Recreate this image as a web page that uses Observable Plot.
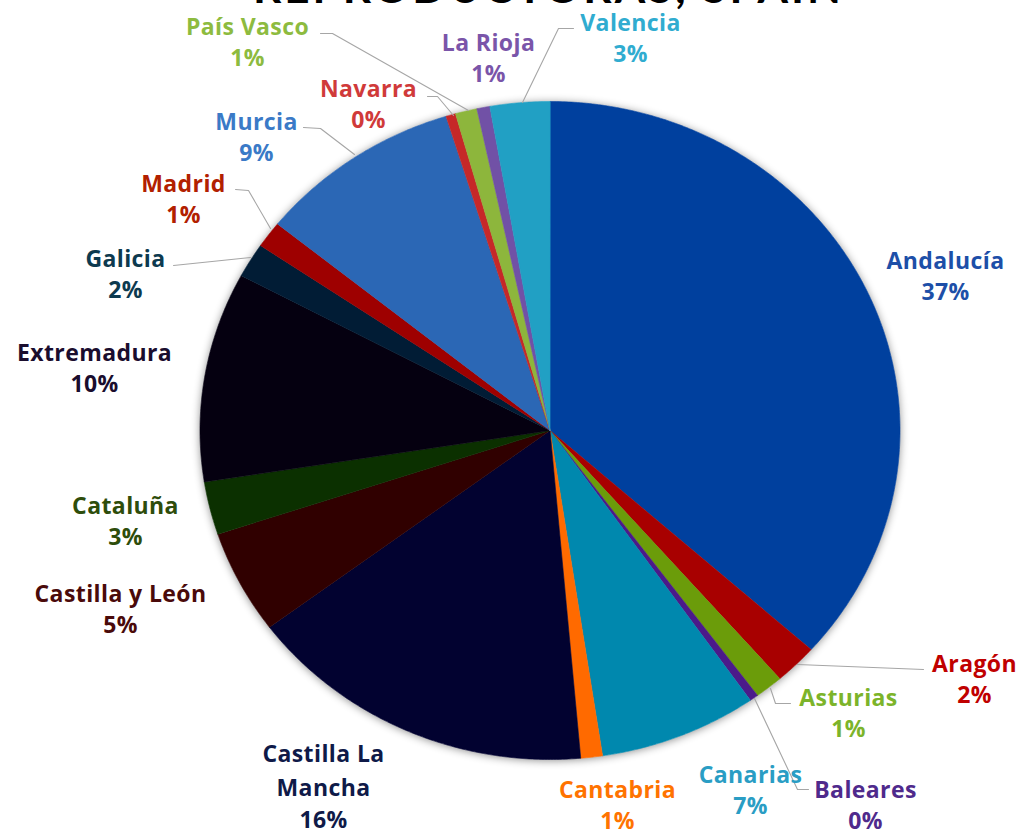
<!DOCTYPE html>
<html><head><meta charset="utf-8">
<script src="https://cdn.jsdelivr.net/npm/d3@7"></script>
<script src="https://cdn.jsdelivr.net/npm/@observablehq/plot@0.6"></script>
<style>
html,body{margin:0;padding:0;background:#fff;overflow:hidden;width:1024px;height:834px}
#wrap{position:relative;width:1024px;height:834px;overflow:hidden}
#title{position:absolute;left:0;top:-40px;width:1097px;text-align:center;font:bold 44px Lato, sans-serif;color:#000;letter-spacing:3px;white-space:nowrap}
#chart{position:absolute;left:0;top:0}
#chart text{letter-spacing:0.4px}
</style></head><body>
<div id="wrap">
<div id="title">REPRODUCTORAS, SPAIN</div>
<div id="chart"></div>
</div>
<script>
// ---- data ----
const regions = ["Andalucía","Aragón","Asturias","Baleares","Canarias","Cantabria","Castilla La Mancha","Castilla y León","Cataluña","Extremadura","Galicia","Madrid","Murcia","Navarra","País Vasco","La Rioja","Valencia"];
const shares = [36.6, 2.0, 1.3, 0.4, 7.3, 1.0, 16.2, 5.1, 2.6, 10.3, 1.7, 1.3, 9.4, 0.45, 1.0, 0.6, 2.75];
const sliceColors = ["#00409e","#a80000","#6b9c0a","#4b1a8a","#0088ae","#ff6a00","#020230","#300000","#0b3000","#050010","#011c35","#9e0000","#2b67b5","#c62828","#8db63c","#7151a6","#21a0c4"];
const labelColors = ["#1d4fa8","#c00000","#7cb42a","#4f2a8c","#2a9dc4","#ff7300","#0f1a48","#4a0a0a","#2e4d0b","#1a0d2e","#0d3a4f","#b22000","#3a7ac7","#d03a3a","#8dbb3f","#7a55a9","#30acd0"];
const labelText = ["Andalucía","Aragón","Asturias","Baleares","Canarias","Cantabria","Castilla La\nMancha","Castilla y León","Cataluña","Extremadura","Galicia","Madrid","Murcia","Navarra","País Vasco","La Rioja","Valencia"];

// ---- layout (pixel positions of label name line centres, leader paths) ----
const labelAt = [[945,258],[974,661],[848,695],[865,787],[750,772],[617,787],[323,751],[120,591],[125,503],[94,350],[125,256],[183,181],[256,119],[368,86],[247,24],[488,40],[630,20]];
const leaders = [
  [[797,664],[923,669]],
  [[770,688],[775,703],[790,703]],
  [[754,698],[797,789],[808,789]],
  [[173,265],[250,257]],
  [[235,189],[248,190],[270,228]],
  [[303,127],[320,128],[354,154]],
  [[427,96],[437,96],[453,115]],
  [[320,33],[332,33],[468,110]],
  [[573,28],[558,28],[522,102]]
];

const CX = 549.5, CY = 430, RX = 350, RY = 329;
const toU = px => (px - CX) / RX;
const toV = py => (CY - py) / RY;

const total = d3.sum(shares);
const arcs = d3.pie().sort(null).value(d => d)(shares);
function slicePoints(a) {
  const n = Math.max(2, Math.ceil((a.endAngle - a.startAngle) / (Math.PI / 360)));
  const pts = [{u: 0, v: 0}];
  for (let k = 0; k <= n; k++) {
    const t = a.startAngle + (a.endAngle - a.startAngle) * k / n;
    pts.push({u: Math.sin(t), v: Math.cos(t)});
  }
  return pts;
}
const ring = d3.range(0, 361, 1).map(d => ({u: Math.sin(d * Math.PI / 180), v: Math.cos(d * Math.PI / 180)}));

const lineH = 34.5;
const names = regions.map((r, i) => ({u: toU(labelAt[i][0]), v: toV(labelAt[i][1]), text: labelText[i], color: labelColors[i]}));
const pcts = regions.map((r, i) => {
  const nl = labelText[i].split("\n").length;
  return {u: toU(labelAt[i][0]), v: toV(labelAt[i][1] + nl * lineH), text: Math.round(shares[i] / total * 100) + "%", color: labelColors[i]};
});
const leaderPts = leaders.flatMap((l, j) => l.map(([x, y]) => ({j, u: toU(x), v: toV(y)})));

const font = "'Open Sans', sans-serif";
const chart = Plot.plot({
  width: 1024, height: 834,
  margin: 0,
  x: {domain: [-1, 1], range: [CX - RX, CX + RX], axis: null},
  y: {domain: [-1, 1], range: [CY + RY, CY - RY], axis: null},
  color: {type: "identity"},
  style: {background: "transparent", overflow: "visible"},
  marks: [
    Plot.line(ring, {x: "u", y: "v", fill: "#fff", stroke: "none", curve: "linear-closed"}),
    ...arcs.map((a, i) => Plot.line(slicePoints(a), {x: "u", y: "v", fill: sliceColors[i], stroke: sliceColors[i], strokeWidth: 0.6, curve: "linear-closed"})),
    Plot.line(leaderPts, {x: "u", y: "v", z: "j", stroke: "#a6a6a6", strokeWidth: 1.1}),
    Plot.text(names, {x: "u", y: "v", text: "text", fill: "color", fontSize: 23, fontWeight: "bold", fontFamily: font, lineHeight: 1.5, lineAnchor: "top", dy: -14}),
    Plot.text(pcts, {x: "u", y: "v", text: "text", fill: "color", fontSize: 23, fontWeight: "bold", fontFamily: font})
  ]
});
const shadowG = chart.querySelector('g[aria-label="line"]');
if (shadowG) shadowG.style.filter = "drop-shadow(0px 1px 4px rgba(0,0,0,0.45))";
document.getElementById("chart").appendChild(chart);
</script>
</body></html>
